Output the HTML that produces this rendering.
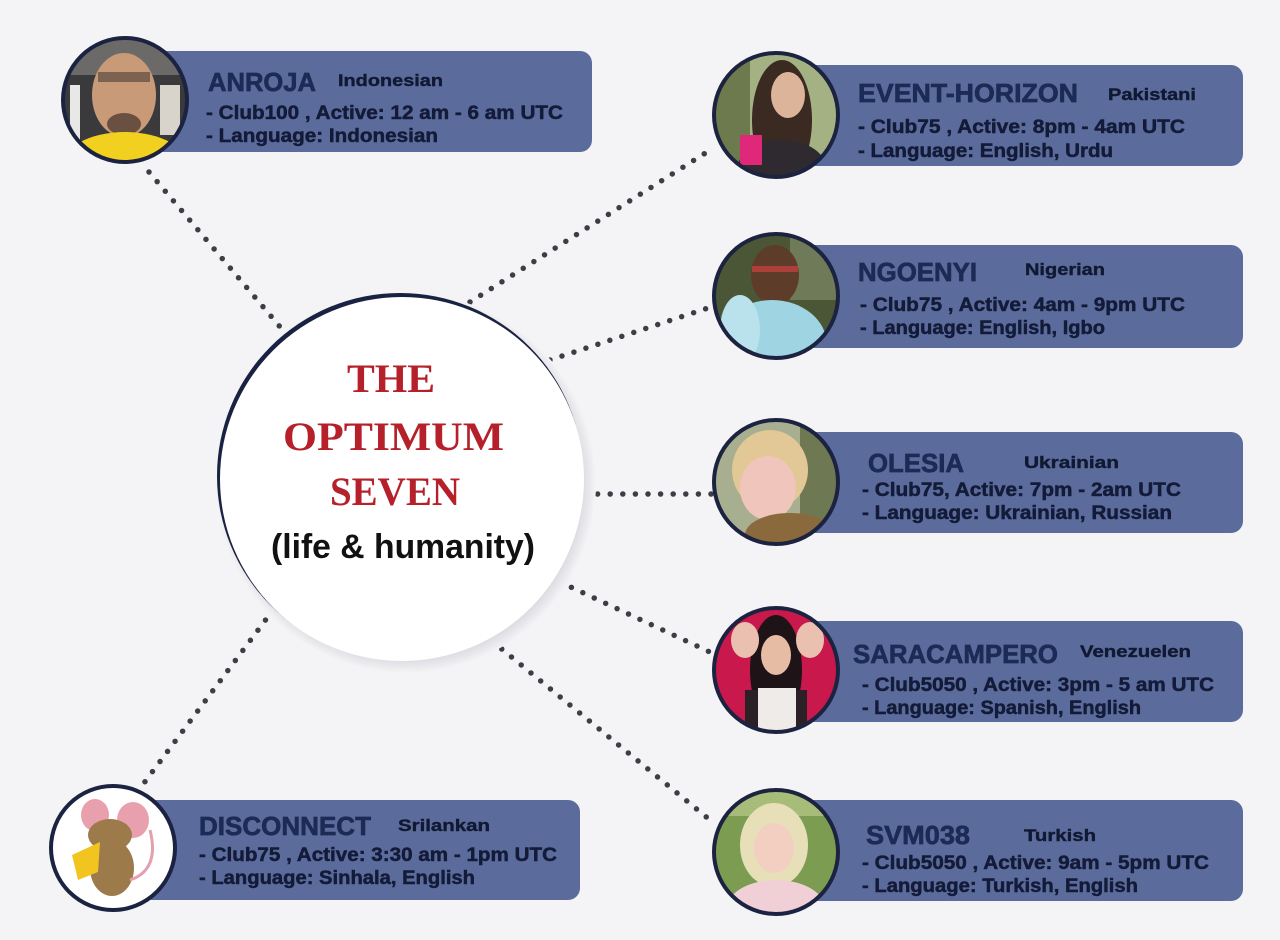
<!DOCTYPE html>
<html>
<head>
<meta charset="utf-8">
<style>
  html,body{margin:0;padding:0;background:#f4f4f6;}
  svg{display:block;}
  .nm{font-family:"Liberation Sans",sans-serif;font-weight:bold;font-size:26px;fill:#1c2a56;stroke:#1c2a56;stroke-width:0.7;}
  .nat{font-family:"Liberation Sans",sans-serif;font-weight:bold;font-size:17px;fill:#111932;stroke:#111932;stroke-width:0.4;}
  .ln{font-family:"Liberation Sans",sans-serif;font-weight:bold;font-size:19px;fill:#131b38;stroke:#131b38;stroke-width:0.5;}
  .dot{stroke:#3d3d45;stroke-width:5.5;stroke-linecap:round;stroke-dasharray:0 12.6;fill:none;}
  .card{fill:#5b6c9c;}
  .ring{fill:none;stroke:#1b2340;stroke-width:4;}
</style>
</head>
<body>
<svg width="1280" height="940" viewBox="0 0 1280 940" xmlns="http://www.w3.org/2000/svg">
  <defs>
    <clipPath id="c1"><circle cx="125" cy="100" r="62"/></clipPath>
    <clipPath id="c2"><circle cx="776" cy="115" r="62"/></clipPath>
    <clipPath id="c3"><circle cx="776" cy="296" r="62"/></clipPath>
    <clipPath id="c4"><circle cx="776" cy="482" r="62"/></clipPath>
    <clipPath id="c5"><circle cx="776" cy="670" r="62"/></clipPath>
    <clipPath id="c6"><circle cx="776" cy="852" r="62"/></clipPath>
    <clipPath id="c7"><circle cx="113" cy="848" r="62"/></clipPath>
    <radialGradient id="shadow" cx="0.5" cy="0.5" r="0.5">
      <stop offset="0.93" stop-color="#dcdce2"/>
      <stop offset="1" stop-color="#f4f4f6"/>
    </radialGradient>
  </defs>

  <rect width="1280" height="940" fill="#f4f4f6"/>

  <!-- connectors -->
  <line class="dot" x1="149" y1="172" x2="281" y2="328"/>
  <line class="dot" x1="470" y1="302" x2="707" y2="152"/>
  <line class="dot" x1="550" y1="360" x2="708" y2="308"/>
  <line class="dot" x1="585" y1="494" x2="712" y2="494"/>
  <line class="dot" x1="560" y1="582" x2="712" y2="653"/>
  <line class="dot" x1="492" y1="641" x2="710" y2="820"/>
  <line class="dot" x1="273" y1="610" x2="144" y2="783"/>

  <!-- center circle -->
  <circle cx="406" cy="483" r="190" fill="url(#shadow)"/>
  <circle cx="400" cy="476" r="183" fill="#1a2242"/>
  <circle cx="402" cy="479" r="182" fill="#ffffff"/>
  <g font-family="'Liberation Serif',serif" font-weight="bold" fill="#b5202a">
    <text x="347" y="392" font-size="40" textLength="88" lengthAdjust="spacingAndGlyphs">THE</text>
    <text x="283" y="450" font-size="40" textLength="221" lengthAdjust="spacingAndGlyphs">OPTIMUM</text>
    <text x="330" y="505" font-size="40" textLength="130" lengthAdjust="spacingAndGlyphs">SEVEN</text>
  </g>
  <text x="271" y="558" font-family="'Liberation Sans',sans-serif" font-weight="bold" font-size="34" fill="#111" textLength="264" lengthAdjust="spacingAndGlyphs">(life &amp; humanity)</text>

  <!-- ===== cards ===== -->
  <rect class="card" x="150" y="51" width="442" height="101" rx="12"/>
  <rect class="card" x="800" y="65" width="443" height="101" rx="12"/>
  <rect class="card" x="800" y="245" width="443" height="103" rx="12"/>
  <rect class="card" x="800" y="432" width="443" height="101" rx="12"/>
  <rect class="card" x="800" y="621" width="443" height="101" rx="12"/>
  <rect class="card" x="800" y="800" width="443" height="101" rx="12"/>
  <rect class="card" x="140" y="800" width="440" height="100" rx="12"/>

  <!-- ANROJA avatar -->
  <g clip-path="url(#c1)">
    <rect x="60" y="35" width="130" height="130" fill="#3a3a3c"/>
    <rect x="60" y="35" width="130" height="40" fill="#6b6a68"/>
    <rect x="70" y="85" width="10" height="60" fill="#e8e8e6"/>
    <rect x="160" y="85" width="20" height="50" fill="#d8d4cc"/>
    <ellipse cx="124" cy="95" rx="32" ry="42" fill="#c99a78"/>
    <rect x="98" y="72" width="52" height="10" fill="#5a4a40" opacity="0.7"/>
    <ellipse cx="124" cy="124" rx="17" ry="11" fill="#6a5040"/>
    <ellipse cx="125" cy="168" rx="65" ry="36" fill="#f2d020"/>
  </g>
  <circle class="ring" cx="125" cy="100" r="62"/>

  <!-- EVENT-HORIZON avatar -->
  <g clip-path="url(#c2)">
    <rect x="710" y="50" width="135" height="130" fill="#a4b283"/>
    <rect x="710" y="50" width="40" height="130" fill="#6d7a4e"/>
    <ellipse cx="782" cy="120" rx="30" ry="60" fill="#3a2a22"/>
    <ellipse cx="788" cy="95" rx="17" ry="23" fill="#dcb49a"/>
    <ellipse cx="782" cy="170" rx="45" ry="30" fill="#2e2a30"/>
    <rect x="740" y="135" width="22" height="30" fill="#e0287a"/>
  </g>
  <circle class="ring" cx="776" cy="115" r="62"/>

  <!-- NGOENYI avatar -->
  <g clip-path="url(#c3)">
    <rect x="710" y="230" width="135" height="130" fill="#4a5636"/>
    <rect x="790" y="230" width="55" height="70" fill="#6f7a58"/>
    <ellipse cx="775" cy="275" rx="24" ry="30" fill="#5e3c2a"/>
    <rect x="752" y="266" width="46" height="6" fill="#c04040" opacity="0.8"/>
    <ellipse cx="772" cy="345" rx="55" ry="45" fill="#9fd4e2"/>
    <ellipse cx="740" cy="330" rx="20" ry="35" fill="#b9e2ec"/>
  </g>
  <circle class="ring" cx="776" cy="296" r="62"/>

  <!-- OLESIA avatar -->
  <g clip-path="url(#c4)">
    <rect x="710" y="416" width="135" height="130" fill="#a8ae90"/>
    <rect x="800" y="416" width="45" height="130" fill="#6e7852"/>
    <ellipse cx="770" cy="470" rx="38" ry="40" fill="#e2c896"/>
    <ellipse cx="768" cy="488" rx="28" ry="32" fill="#f0c6bc"/>
    <ellipse cx="790" cy="535" rx="45" ry="22" fill="#8a6a3c"/>
  </g>
  <circle class="ring" cx="776" cy="482" r="62"/>

  <!-- SARACAMPERO avatar -->
  <g clip-path="url(#c5)">
    <rect x="710" y="604" width="135" height="132" fill="#c8184c"/>
    <ellipse cx="776" cy="670" rx="26" ry="55" fill="#1e1418"/>
    <ellipse cx="776" cy="655" rx="15" ry="20" fill="#e6bca4"/>
    <ellipse cx="745" cy="640" rx="14" ry="18" fill="#eac0b0"/>
    <ellipse cx="810" cy="640" rx="14" ry="18" fill="#eac0b0"/>
    <rect x="745" y="690" width="62" height="50" fill="#2a2026"/>
    <rect x="758" y="688" width="38" height="50" fill="#efebe8"/>
  </g>
  <circle class="ring" cx="776" cy="670" r="62"/>

  <!-- SVM038 avatar -->
  <g clip-path="url(#c6)">
    <rect x="710" y="786" width="135" height="132" fill="#7c9c52"/>
    <rect x="710" y="786" width="135" height="30" fill="#a8bc7a"/>
    <ellipse cx="774" cy="845" rx="34" ry="42" fill="#e6dfb8"/>
    <ellipse cx="774" cy="848" rx="20" ry="25" fill="#f2cfc0"/>
    <ellipse cx="776" cy="910" rx="50" ry="30" fill="#f0d0d6"/>
  </g>
  <circle class="ring" cx="776" cy="852" r="62"/>

  <!-- DISCONNECT avatar -->
  <g clip-path="url(#c7)">
    <rect x="48" y="784" width="130" height="130" fill="#ffffff"/>
    <ellipse cx="95" cy="815" rx="14" ry="16" fill="#e9a0ae"/>
    <ellipse cx="133" cy="820" rx="16" ry="18" fill="#e9a0ae"/>
    <ellipse cx="110" cy="835" rx="22" ry="16" fill="#9c7a4a"/>
    <ellipse cx="112" cy="868" rx="22" ry="28" fill="#9c7a4a"/>
    <polygon points="72,855 100,842 98,872 78,880" fill="#f2c420"/>
    <path d="M130 880 Q160 870 150 830" stroke="#e4a0b0" stroke-width="3" fill="none"/>
  </g>
  <circle class="ring" cx="113" cy="848" r="62"/>

  <!-- ===== texts ===== -->
  <!-- ANROJA -->
  <text class="nm" x="208" y="91" textLength="108" lengthAdjust="spacingAndGlyphs">ANROJA</text>
  <text class="nat" x="338" y="86" textLength="105" lengthAdjust="spacingAndGlyphs">Indonesian</text>
  <text class="ln" x="206" y="119" textLength="357" lengthAdjust="spacingAndGlyphs">- Club100 ,  Active: 12 am - 6 am UTC</text>
  <text class="ln" x="206" y="142" textLength="232" lengthAdjust="spacingAndGlyphs">- Language: Indonesian</text>

  <!-- EVENT-HORIZON -->
  <text class="nm" x="858" y="102" textLength="220" lengthAdjust="spacingAndGlyphs">EVENT-HORIZON</text>
  <text class="nat" x="1108" y="100" textLength="88" lengthAdjust="spacingAndGlyphs">Pakistani</text>
  <text class="ln" x="858" y="133" textLength="327" lengthAdjust="spacingAndGlyphs">- Club75 ,  Active: 8pm - 4am UTC</text>
  <text class="ln" x="858" y="157" textLength="255" lengthAdjust="spacingAndGlyphs">- Language: English, Urdu</text>

  <!-- NGOENYI -->
  <text class="nm" x="858" y="281" textLength="119" lengthAdjust="spacingAndGlyphs">NGOENYI</text>
  <text class="nat" x="1025" y="275" textLength="80" lengthAdjust="spacingAndGlyphs">Nigerian</text>
  <text class="ln" x="860" y="311" textLength="325" lengthAdjust="spacingAndGlyphs">- Club75 ,  Active: 4am - 9pm UTC</text>
  <text class="ln" x="860" y="334" textLength="245" lengthAdjust="spacingAndGlyphs">- Language: English, Igbo</text>

  <!-- OLESIA -->
  <text class="nm" x="868" y="472" textLength="96" lengthAdjust="spacingAndGlyphs">OLESIA</text>
  <text class="nat" x="1024" y="468" textLength="95" lengthAdjust="spacingAndGlyphs">Ukrainian</text>
  <text class="ln" x="862" y="496" textLength="319" lengthAdjust="spacingAndGlyphs">- Club75,  Active: 7pm - 2am UTC</text>
  <text class="ln" x="862" y="519" textLength="310" lengthAdjust="spacingAndGlyphs">- Language: Ukrainian, Russian</text>

  <!-- SARACAMPERO -->
  <text class="nm" x="853" y="663" textLength="205" lengthAdjust="spacingAndGlyphs">SARACAMPERO</text>
  <text class="nat" x="1080" y="657" textLength="111" lengthAdjust="spacingAndGlyphs">Venezuelen</text>
  <text class="ln" x="862" y="691" textLength="352" lengthAdjust="spacingAndGlyphs">- Club5050 ,  Active: 3pm - 5 am UTC</text>
  <text class="ln" x="862" y="714" textLength="279" lengthAdjust="spacingAndGlyphs">- Language: Spanish, English</text>

  <!-- SVM038 -->
  <text class="nm" x="866" y="844" textLength="104" lengthAdjust="spacingAndGlyphs">SVM038</text>
  <text class="nat" x="1024" y="841" textLength="72" lengthAdjust="spacingAndGlyphs">Turkish</text>
  <text class="ln" x="862" y="869" textLength="347" lengthAdjust="spacingAndGlyphs">- Club5050 ,  Active: 9am - 5pm UTC</text>
  <text class="ln" x="862" y="892" textLength="276" lengthAdjust="spacingAndGlyphs">- Language: Turkish, English</text>

  <!-- DISCONNECT -->
  <text class="nm" x="199" y="835" textLength="172" lengthAdjust="spacingAndGlyphs">DISCONNECT</text>
  <text class="nat" x="398" y="831" textLength="92" lengthAdjust="spacingAndGlyphs">Srilankan</text>
  <text class="ln" x="199" y="861" textLength="358" lengthAdjust="spacingAndGlyphs">- Club75 ,  Active: 3:30 am - 1pm UTC</text>
  <text class="ln" x="199" y="884" textLength="276" lengthAdjust="spacingAndGlyphs">- Language: Sinhala, English</text>
</svg>
</body>
</html>
